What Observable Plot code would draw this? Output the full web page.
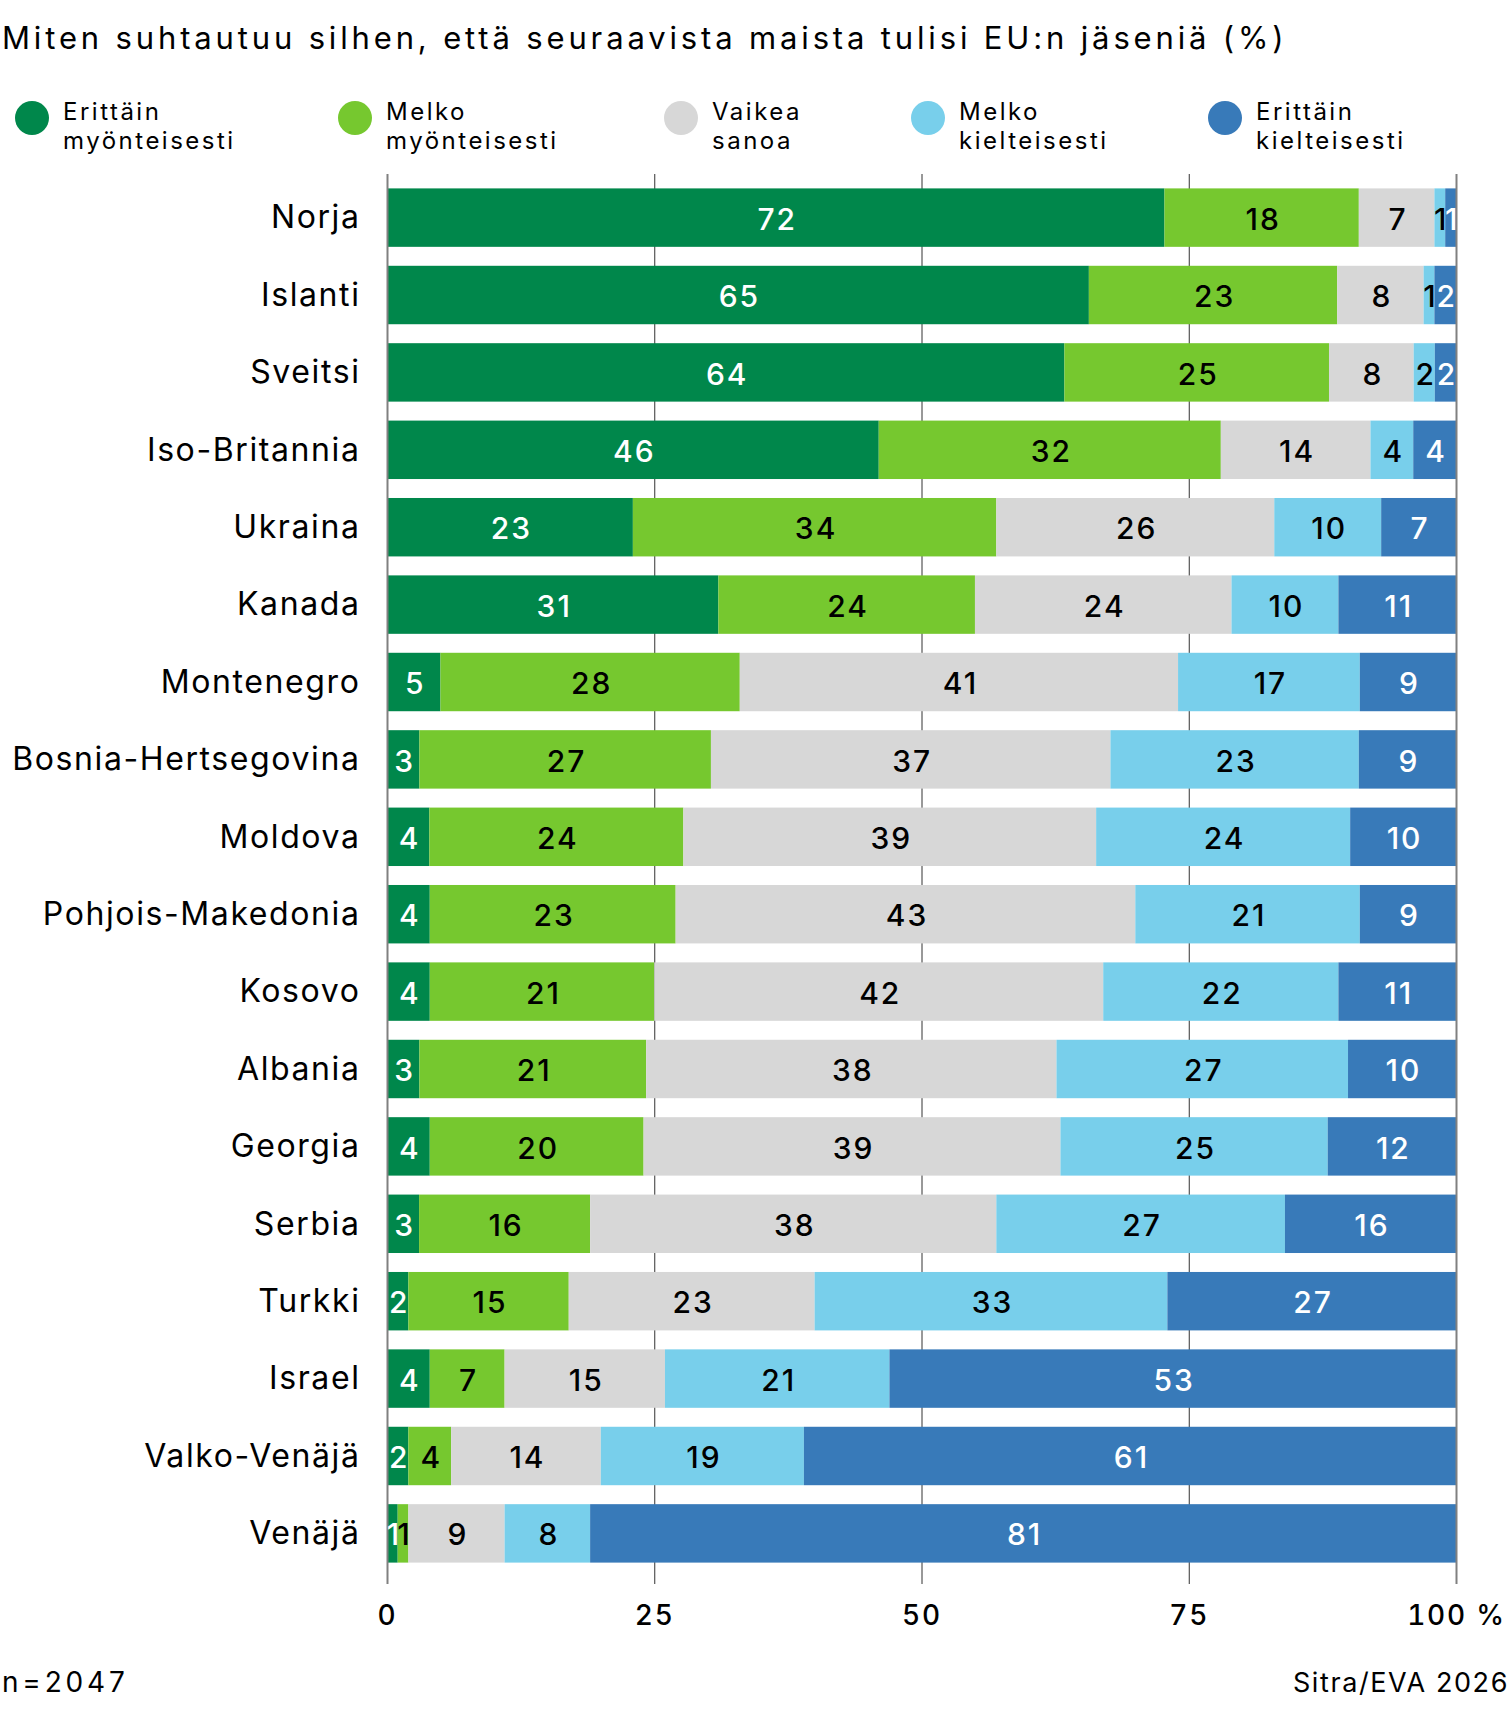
<!DOCTYPE html>
<html>
<head>
<meta charset="utf-8">
<script src="https://cdn.jsdelivr.net/npm/d3@7"></script>
<script src="https://cdn.jsdelivr.net/npm/@observablehq/plot@0.6"></script>
<style>
  html, body { margin: 0; padding: 0; background: #fff; }
  body { width: 1512px; font-family: Inter, "Noto Sans", sans-serif; color: #000; }
  #title { height: 76px; line-height: 76px; font-size: 31px; font-weight: 400; padding-left: 2px; white-space: nowrap; letter-spacing: 3.85px; }
  #legend { height: 84px; display: flex; align-items: center; padding-left: 15px; box-sizing: border-box; }
  .item { display: flex; align-items: center; }
  .dot { width: 34px; height: 34px; border-radius: 50%; flex: none; margin-right: 14px; }
  .lab { font-size: 24px; line-height: 29.5px; letter-spacing: 2.5px; position: relative; top: 8px; }
  #chart svg { display: block; overflow: visible; }
  g[aria-label^="y-axis"] text { font-size: 32px; font-weight: 400; letter-spacing: 1.6px; }
  g[aria-label^="x-axis"] text { font-size: 28px; font-weight: 500; letter-spacing: 1.8px; }
  g[aria-label="text"] text { letter-spacing: 2px; }
  #footer { height: 84px; display: flex; justify-content: space-between; align-items: center; font-size: 27px; padding: 0 3px 0 2px; }
  #nlabel { letter-spacing: 3.8px; font-size: 28px; }
  #source { letter-spacing: 1.6px; }
</style>
</head>
<body>
<div id="title"></div>
<div id="legend"></div>
<div id="chart"></div>
<div id="footer"><span id="nlabel"></span><span id="source"></span></div>
<script>
const title = "Miten suhtautuu silhen, että seuraavista maista tulisi EU:n jäseniä (%)";
const countries = ["Norja","Islanti","Sveitsi","Iso-Britannia","Ukraina","Kanada","Montenegro","Bosnia-Hertsegovina","Moldova","Pohjois-Makedonia","Kosovo","Albania","Georgia","Serbia","Turkki","Israel","Valko-Venäjä","Venäjä"];
const categories = ["Erittäin myönteisesti","Melko myönteisesti","Vaikea sanoa","Melko kielteisesti","Erittäin kielteisesti"];
const legendLines = [["Erittäin","myönteisesti"],["Melko","myönteisesti"],["Vaikea","sanoa"],["Melko","kielteisesti"],["Erittäin","kielteisesti"]];
const colors = ["#00874b","#76c82f","#d7d7d7","#78cfeb","#387ab9"];
const labelColors = ["white","black","black","black","white"];

const erittainMyonteisesti = [72,65,64,46,23,31,5,3,4,4,4,3,4,3,2,4,2,1];
const melkoMyonteisesti    = [18,23,25,32,34,24,28,27,24,23,21,21,20,16,15,7,4,1];
const vaikeaSanoa          = [7,8,8,14,26,24,41,37,39,43,42,38,39,38,23,15,14,9];
const melkoKielteisesti    = [1,1,2,4,10,10,17,23,24,21,22,27,25,27,33,21,19,8];
const erittainKielteisesti = [1,2,2,4,7,11,9,9,10,9,11,10,12,16,27,53,61,81];

const xTicks = [0,25,50,75,100];
const nText = "n=2047";
const sourceText = "Sitra/EVA 2026";

const series = [erittainMyonteisesti, melkoMyonteisesti, vaikeaSanoa, melkoKielteisesti, erittainKielteisesti];
const data = [];
countries.forEach((c, i) => {
  categories.forEach((cat, j) => {
    data.push({country: c, cat, ci: j, value: series[j][i]});
  });
});

document.getElementById("title").textContent = title;
document.getElementById("nlabel").textContent = nText;
document.getElementById("source").textContent = sourceText;

const widths = [323, 326, 247, 297, null];
const legend = document.getElementById("legend");
categories.forEach((cat, j) => {
  const it = document.createElement("div");
  it.className = "item";
  if (widths[j]) it.style.width = widths[j] + "px";
  const dot = document.createElement("div");
  dot.className = "dot";
  dot.style.background = colors[j];
  const lab = document.createElement("div");
  lab.className = "lab";
  lab.innerHTML = legendLines[j].join("<br>");
  it.appendChild(dot); it.appendChild(lab);
  legend.appendChild(it);
});

const innerTicks = xTicks.filter(t => t !== 0 && t !== 100).map(t => t / 100);
const edgeTicks = xTicks.filter(t => t === 0 || t === 100).map(t => t / 100);

const chart = Plot.plot({
  width: 1512,
  height: 1480,
  marginTop: 14,
  marginBottom: 56,
  marginLeft: 387,
  marginRight: 56,
  style: {fontFamily: "Inter, 'Noto Sans', sans-serif", color: "#000", background: "transparent"},
  color: {type: "identity"},
  x: {
    domain: [0, 1],
    ticks: xTicks.map(t => t / 100),
    tickFormat: d => Math.round(d * 100) === 100 ? "100 %" : String(Math.round(d * 100)),
    tickSize: 0,
    tickPadding: 21,
    label: null
  },
  y: {
    domain: countries,
    paddingInner: 0.245,
    paddingOuter: 0.186,
    insetBottom: 7,
    round: false,
    tickSize: 0,
    tickPadding: 27,
    label: null
  },
  marks: [
    Plot.ruleX(innerTicks, {x: d => d, stroke: "#333", strokeWidth: 1}),
    Plot.barX(data, Plot.stackX({
      x: "value", y: "country", z: "cat", offset: "normalize",
      fill: d => colors[d.ci]
    })),
    Plot.ruleX(edgeTicks, {x: d => d, stroke: "#808080", strokeWidth: 2}),
    Plot.text(data, Plot.stackX({
      x: "value", y: "country", z: "cat", offset: "normalize",
      text: d => String(d.value),
      fill: d => labelColors[d.ci],
      fontSize: 30, fontWeight: 500, dy: 2, dx: 1
    }))
  ]
});
document.getElementById("chart").appendChild(chart);
</script>
</body>
</html>
